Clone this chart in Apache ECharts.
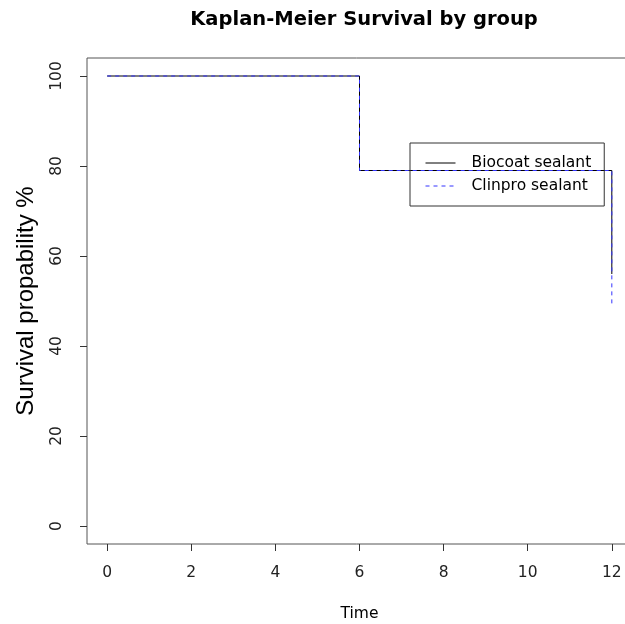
<!DOCTYPE html>
<html>
<head>
<meta charset="utf-8">
<script src="https://cdn.jsdelivr.net/npm/echarts@6/dist/echarts.min.js"></script>
<style>html,body{margin:0;padding:0;background:#fff}#c{width:625px;height:624px}</style>
</head>
<body>
<div id="c"></div>
<script>
const timeTicks = [0, 2, 4, 6, 8, 10, 12];
const survTicks = [0, 20, 40, 60, 80, 100];
const biocoatTimes = [0, 6, 12];
const biocoatSurv = [100, 79, 56];
const clinproTimes = [0, 6, 12];
const clinproSurv = [100, 79, 49];

const pairs = (t, s) => t.map((v, i) => [v, s[i]]);

const chart = echarts.init(document.getElementById('c'), null, {renderer: 'canvas'});
chart.setOption({
  animation: false,
  backgroundColor: '#fff',
  title: {
    text: 'Kaplan-Meier Survival by group',
    left: 359, top: 5, textAlign: 'center',
    textStyle: {fontFamily: 'DejaVu Sans', fontWeight: 'bold', fontSize: 19.5, color: '#000'}
  },
  legend: {
    left: 410, top: 143, orient: 'vertical',
    borderColor: '#333', borderWidth: 1, borderRadius: 0,
    padding: [12, 13, 12, 15],
    itemWidth: 30, itemHeight: 14, itemGap: 7,
    itemStyle: {opacity: 0},
    lineStyle: {width: 1},
    textStyle: {fontFamily: 'DejaVu Sans', fontSize: 15.5, color: '#000', padding: [0, 0, 0, 11]},
    data: ['Biocoat sealant', 'Clinpro sealant']
  },
  grid: {
    left: 87, top: 58, width: 545, height: 486,
    outerBoundsMode: 'none',
    show: true, borderColor: '#555', borderWidth: 1, backgroundColor: 'transparent'
  },
  xAxis: {
    type: 'value', min: -0.48, max: 12.48,
    name: 'Time', nameLocation: 'middle', nameGap: 62,
    nameTextStyle: {fontFamily: 'DejaVu Sans', fontSize: 15.5, color: '#000'},
    axisLine: {show: false, onZero: false},
    axisTick: {show: true, length: 7, customValues: timeTicks, lineStyle: {color: '#333'}},
    axisLabel: {customValues: timeTicks, margin: 21, fontFamily: 'DejaVu Sans', fontSize: 15.5, color: '#222'},
    splitLine: {show: false}
  },
  yAxis: {
    type: 'value', min: -4, max: 104,
    name: 'Survival propability %', nameLocation: 'middle', nameGap: 49,
    nameTextStyle: {fontFamily: 'Liberation Sans', fontSize: 24, color: '#000'},
    axisLine: {show: false, onZero: false},
    axisTick: {show: true, length: 7, customValues: survTicks, lineStyle: {color: '#333'}},
    axisLabel: {customValues: survTicks, rotate: 90, margin: 22, fontFamily: 'DejaVu Sans', fontSize: 15.5, color: '#222'},
    splitLine: {show: false}
  },
  series: [
    {
      name: 'Biocoat sealant', type: 'line', step: 'end', symbol: 'none',
      data: pairs(biocoatTimes, biocoatSurv),
      lineStyle: {color: '#000', width: 1, type: 'solid'},
      itemStyle: {color: '#000'}
    },
    {
      name: 'Clinpro sealant', type: 'line', step: 'end', symbol: 'none',
      data: pairs(clinproTimes, clinproSurv),
      lineStyle: {color: '#3333ff', width: 1, type: [4, 4]},
      itemStyle: {color: '#3333ff'}
    }
  ]
});
</script>
</body>
</html>
